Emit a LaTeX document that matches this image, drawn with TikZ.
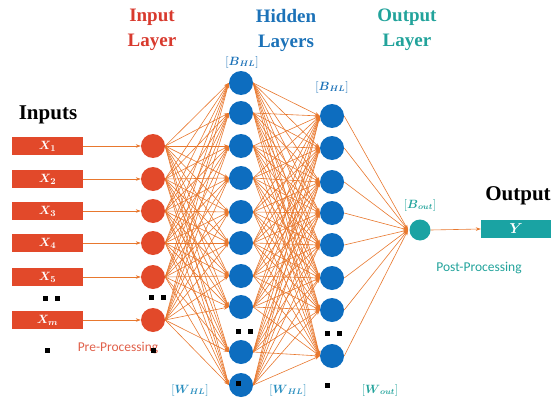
\documentclass[tikz,border=0pt]{standalone}
\usepackage{amsmath}
\usepackage{fontspec}
\setmainfont{Liberation Serif}
\newfontfamily\carlfont{Carlito}
\usetikzlibrary{arrows.meta}
\definecolor{inred}{HTML}{E2492A}
\definecolor{linkor}{HTML}{E8782E}
\definecolor{hblue}{HTML}{0D6DBF}
\definecolor{tealc}{HTML}{1AA3A3}
\definecolor{titred}{HTML}{D83A2E}
\definecolor{titblue}{HTML}{1C72B8}
\definecolor{titteal}{HTML}{22A39B}
\definecolor{wblue}{HTML}{2B8FBF}
\definecolor{preor}{HTML}{E0604A}
\begin{document}
\begin{tikzpicture}[x=1pt,y=-1pt,
 inbox/.style={fill=inred, minimum width=71pt, minimum height=18pt, inner sep=0pt, text=white, font=\fontsize{13}{13}\selectfont},
 outbox/.style={fill=tealc, minimum width=70pt, minimum height=18pt, inner sep=0pt, text=white, font=\fontsize{14}{14}\selectfont},
 incirc/.style={circle, fill=inred, minimum size=24pt, inner sep=0pt},
 hcirc/.style={circle, fill=hblue, minimum size=24pt, inner sep=0pt},
 ocirc/.style={circle, fill=tealc, minimum size=21pt, inner sep=0pt},
 link/.style={draw=linkor, line width=0.6pt, -{Stealth[length=5pt,width=3.5pt]}},
 sq/.style={fill=black, minimum size=5pt, inner sep=0pt},
 title/.style={font=\fontsize{19}{25}\selectfont\bfseries, align=center},
 big/.style={font=\fontsize{21}{25}\selectfont\bfseries},
 lbl/.style={font=\fontsize{12}{12}\selectfont},
 proc/.style={font=\carlfont\fontsize{13.5}{14}\selectfont},
]
\useasboundingbox (0,0) rectangle (551,404);

% titles
\node[title, text=titred] (tin) at (152,30) {Input\\Layer};
\node[title, text=titblue] (thid) at (286,30) {Hidden\\Layers};
\node[title, text=titteal] (tout) at (407,30) {Output\\Layer};
\node[big] (tinputs) at (48,115) {Inputs};
\node[big] (toutput) at (518,196) {Output};

% inputs and input layer
\foreach \n/\y/\s in {1/146/1,2/179/2,3/211/3,4/243/4,5/277/5,6/320/m}{
  \node[inbox] (x\n) at (47.5,\y) {$\boldsymbol{X_{\s}}$};
  \node[incirc] (i\n) at (153,\y) {};
}
% hidden layer 1
\foreach \n/\y in {1/83,2/113,3/146,4/178,5/212,6/243,7/276,8/307,9/352,10/385}{
  \node[hcirc] (h\n) at (241,\y) {};
}
% hidden layer 2
\foreach \n/\y in {1/116,2/148,3/182,4/213,5/245,6/278,7/310,8/356}{
  \node[hcirc] (g\n) at (332,\y) {};
}
% output
\node[ocirc] (o) at (420,230) {};
\coordinate (oin) at (408,230);
\node[outbox] (yb) at (516,229) {$\boldsymbol{Y}$};

% connections
\foreach \a in {1,...,6}{ \draw[link] (x\a.east) -- (i\a.west); }
\foreach \a in {1,...,6}{ \foreach \b in {1,...,10}{ \draw[link] (i\a.east) -- (h\b.west); } }
\foreach \a in {1,...,10}{ \foreach \b in {1,...,8}{ \draw[link] (h\a.east) -- (g\b.west); } }
\foreach \a in {1,...,8}{ \draw[link] (g\a.east) -- (oin); }
\draw[link] (o.east) -- (yb.west);

% labels
\node[lbl, text=titblue] (bh1) at (242,62) {$[\boldsymbol{B}_{\boldsymbol{HL}}]$};
\node[lbl, text=titblue] (bh2) at (332,87) {$[\boldsymbol{B}_{\boldsymbol{HL}}]$};
\node[lbl, text=titteal] (bo) at (420,205) {$[\boldsymbol{B}_{\boldsymbol{out}}]$};
\node[lbl, text=wblue] (wh1) at (190,390) {$[\boldsymbol{W}_{\boldsymbol{HL}}]$};
\node[lbl, text=wblue] (wh2) at (288,390) {$[\boldsymbol{W}_{\boldsymbol{HL}}]$};
\node[lbl, text=titteal] (wo) at (380,390) {$[\boldsymbol{W}_{\boldsymbol{out}}]$};
\node[proc, text=preor] (pre) at (118,348) {Pre-Processing};
\node[proc, text=titteal] (post) at (479,268) {Post-Processing};

% dots
\foreach \x/\y [count=\k] in {45/298,57/298,47/350,151/297,163/297,153/350,238/331,250/331,238/383,327/333,339/333,327/385}{
  \node[sq] (d\k) at (\x,\y) {};
}
\end{tikzpicture}
\end{document}
